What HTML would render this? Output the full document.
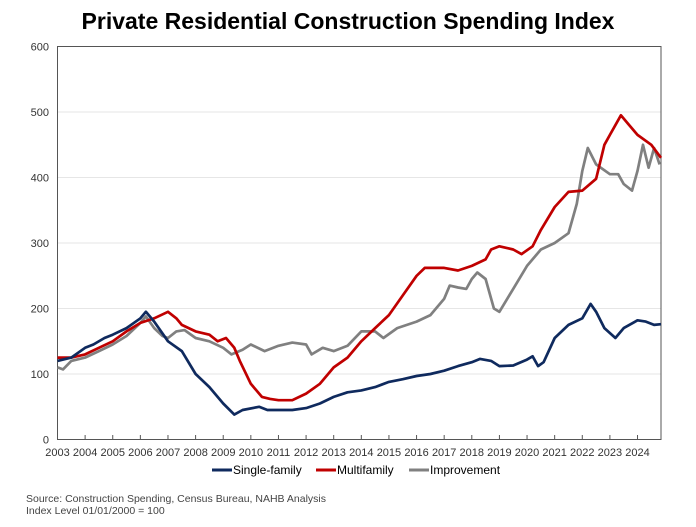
<!DOCTYPE html>
<html><head><meta charset="utf-8"><style>
body{margin:0;background:#fff;width:696px;height:522px;overflow:hidden;font-family:"Liberation Sans",Arial,sans-serif}
</style></head><body>
<svg width="696" height="522" viewBox="0 0 696 522" xmlns="http://www.w3.org/2000/svg" font-family="Liberation Sans, Arial, sans-serif">
<text x="348" y="29" text-anchor="middle" font-size="23" font-weight="bold" fill="#000">Private Residential Construction Spending Index</text>
<g id="grid" stroke="#e6e6e6" stroke-width="1"></g>
<g id="ylab" font-size="11" fill="#333" text-anchor="end"></g>
<g id="xlab" font-size="11" fill="#333" text-anchor="middle"></g>
<rect x="57.5" y="46.5" width="603.5" height="393" fill="none" stroke="#555" stroke-width="1"/>
<g id="ticks" stroke="#555"></g>
<polyline id="imp" fill="none" stroke="#808080" stroke-width="2.7" stroke-linejoin="round"/>
<polyline id="mf" fill="none" stroke="#c00000" stroke-width="2.7" stroke-linejoin="round"/>
<polyline id="sf" fill="none" stroke="#0f2a5e" stroke-width="2.7" stroke-linejoin="round"/>
<line x1="212" y1="470" x2="232" y2="470" stroke="#0f2a5e" stroke-width="3"/>
<text x="233" y="474" font-size="12" fill="#000">Single-family</text>
<line x1="316" y1="470" x2="336" y2="470" stroke="#c00000" stroke-width="3"/>
<text x="337" y="474" font-size="12" fill="#000">Multifamily</text>
<line x1="409" y1="470" x2="429" y2="470" stroke="#808080" stroke-width="3"/>
<text x="430" y="474" font-size="12" fill="#000">Improvement</text>
<text x="26" y="502" font-size="10.5" fill="#444">Source: Construction Spending, Census Bureau, NAHB  Analysis</text>
<text x="26" y="514" font-size="10.5" fill="#444">Index Level 01/01/2000 = 100</text>
</svg>
<script>
var X=function(y){return 57.5+(y-2003)*27.62},Y=function(v){return 439.5-v*0.655};
var ns="http://www.w3.org/2000/svg";
function el(p,t,a,txt){var e=document.createElementNS(ns,t);for(var k in a)e.setAttribute(k,a[k]);if(txt!=null)e.textContent=txt;document.getElementById(p).appendChild(e);}
for(var v=100;v<=500;v+=100)el("grid","line",{x1:57.5,x2:661,y1:Y(v),y2:Y(v)});
for(var v=0;v<=600;v+=100)el("ylab","text",{x:49,y:Y(v)+4},v);
for(var y=2003;y<=2024;y++){el("xlab","text",{x:X(y),y:456},y);el("ticks","line",{x1:X(y),x2:X(y),y1:439.5,y2:435});}
function pl(id,d){var s=[];for(var i=0;i<d.length;i+=2)s.push(X(d[i]).toFixed(1)+","+Y(d[i+1]).toFixed(1));document.getElementById(id).setAttribute("points",s.join(" "));}
pl("sf",[2003,120,2003.5,125,2004,140,2004.3,145,2004.7,155,2005,160,2005.5,170,2006,185,2006.2,195,2006.5,180,2007,150,2007.5,135,2008,100,2008.5,80,2009,55,2009.4,38,2009.7,45,2010.3,50,2010.6,45,2011.5,45,2012,48,2012.5,55,2013,65,2013.5,72,2014,75,2014.5,80,2015,88,2015.5,92,2016,97,2016.5,100,2017,105,2017.5,112,2018,118,2018.3,123,2018.7,120,2019,112,2019.5,113,2020,122,2020.2,127,2020.4,112,2020.6,118,2021,155,2021.5,175,2022,185,2022.3,207,2022.5,195,2022.8,170,2023.2,155,2023.5,170,2024,182,2024.3,180,2024.6,175,2024.85,176]);
pl("mf",[2003,125,2003.5,125,2004,130,2004.5,140,2005,150,2005.5,165,2006,178,2006.5,185,2007,195,2007.3,185,2007.5,175,2008,165,2008.5,160,2008.8,150,2009.1,155,2009.4,140,2009.6,120,2010,85,2010.4,65,2010.7,62,2011,60,2011.5,60,2012,70,2012.5,85,2013,110,2013.5,125,2014,150,2014.5,170,2015,190,2015.5,220,2016,250,2016.3,262,2017,262,2017.5,258,2018,265,2018.5,275,2018.7,290,2019,295,2019.5,290,2019.8,283,2020.2,295,2020.5,320,2021,355,2021.5,378,2022,380,2022.5,398,2022.8,450,2023,465,2023.4,495,2023.7,480,2024,465,2024.5,450,2024.85,430]);
pl("imp",[2003,110,2003.2,107,2003.5,120,2004,125,2004.5,135,2005,145,2005.5,158,2006,178,2006.2,188,2006.5,170,2006.8,158,2007,155,2007.3,165,2007.6,167,2008,155,2008.5,150,2009,140,2009.3,130,2009.7,137,2010,145,2010.5,135,2011,143,2011.5,148,2012,145,2012.2,130,2012.6,140,2013,135,2013.5,143,2014,165,2014.5,165,2014.8,155,2015.3,170,2016,180,2016.5,190,2017,215,2017.2,235,2017.5,232,2017.8,230,2018,245,2018.2,255,2018.5,245,2018.8,200,2019,195,2019.5,230,2020,265,2020.5,290,2021,300,2021.5,315,2021.8,360,2022,410,2022.2,445,2022.5,420,2023,405,2023.3,405,2023.5,390,2023.8,380,2024,410,2024.2,450,2024.4,415,2024.6,445,2024.8,420]);
</script>
</body></html>
